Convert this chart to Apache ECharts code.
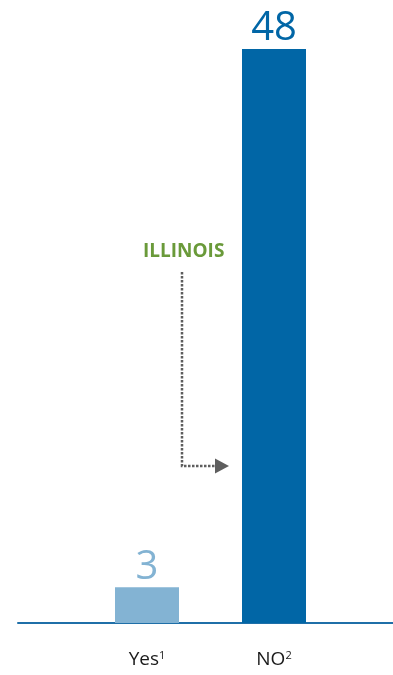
<!DOCTYPE html>
<html>
<head>
<meta charset="utf-8">
<style>
  html, body { margin: 0; padding: 0; background: #fff; }
  #main { width: 393px; height: 675px; }
</style>
<script src="https://cdn.jsdelivr.net/npm/echarts@6/dist/echarts.min.js"></script>
</head>
<body>
<div id="main"></div>
<script>
var categories = ['Yes', 'NO']
var superscripts = ['1', '2']
var values = [3, 48]
var barColors = ['#83b3d3', '#0166a6']

var chart = echarts.init(document.getElementById('main'))

var option = {
  animation: false,
  grid: [
    { left: 83.5, right: 55.5, top: 49, bottom: 52 },
    { left: 18, right: 0, top: 49, bottom: 52 }
  ],
  xAxis: [
    {
      type: 'category',
      gridIndex: 0,
      data: categories,
      axisLine: { show: false },
      axisTick: { show: false },
      axisLabel: {
        interval: 0,
        hideOverlap: false,
        margin: 27,
        fontFamily: 'Open Sans',
        fontSize: 19,
        color: '#1a1a1a',
        formatter: function (v, i) {
          return v + '{sup|' + superscripts[i] + '}'
        },
        rich: {
          sup: { fontSize: 11, color: '#1a1a1a', verticalAlign: 'top', padding: [0, 0, 9, 0] }
        }
      }
    },
    {
      type: 'value',
      gridIndex: 1,
      axisLine: { show: true, onZero: false, lineStyle: { color: '#1f6fa8', width: 2 } },
      axisTick: { show: false },
      axisLabel: { show: false },
      splitLine: { show: false }
    }
  ],
  yAxis: [
    { type: 'value', gridIndex: 0, min: 0, max: 48, show: false },
    { type: 'value', gridIndex: 1, min: 0, max: 48, show: false }
  ],
  graphic: [
    {
      type: 'text',
      left: 143,
      top: 242,
      style: { text: 'ILLINOIS', fill: '#6a9a3a', font: 'bold 19px "Open Sans"' }
    },
    {
      type: 'polyline',
      shape: { points: [[182, 272], [182, 466], [216, 466]] },
      style: { stroke: '#5e5e5e', lineWidth: 2.5, lineDash: [2.5, 1.5], fill: null }
    },
    {
      type: 'polygon',
      shape: { points: [[215, 458.5], [229, 466], [215, 473.5]] },
      style: { fill: '#5e5e5e' }
    }
  ],
  series: [
    {
      type: 'bar',
      xAxisIndex: 0,
      yAxisIndex: 0,
      barWidth: 64,
      data: values.map(function (v, i) {
        return {
          value: v,
          itemStyle: { color: barColors[i] },
          label: { color: barColors[i] }
        }
      }),
      label: {
        show: true,
        position: 'top',
        distance: 0,
        fontFamily: 'Open Sans',
        fontSize: 40
      }
    }
  ]
}
chart.setOption(option)
</script>
</body>
</html>
